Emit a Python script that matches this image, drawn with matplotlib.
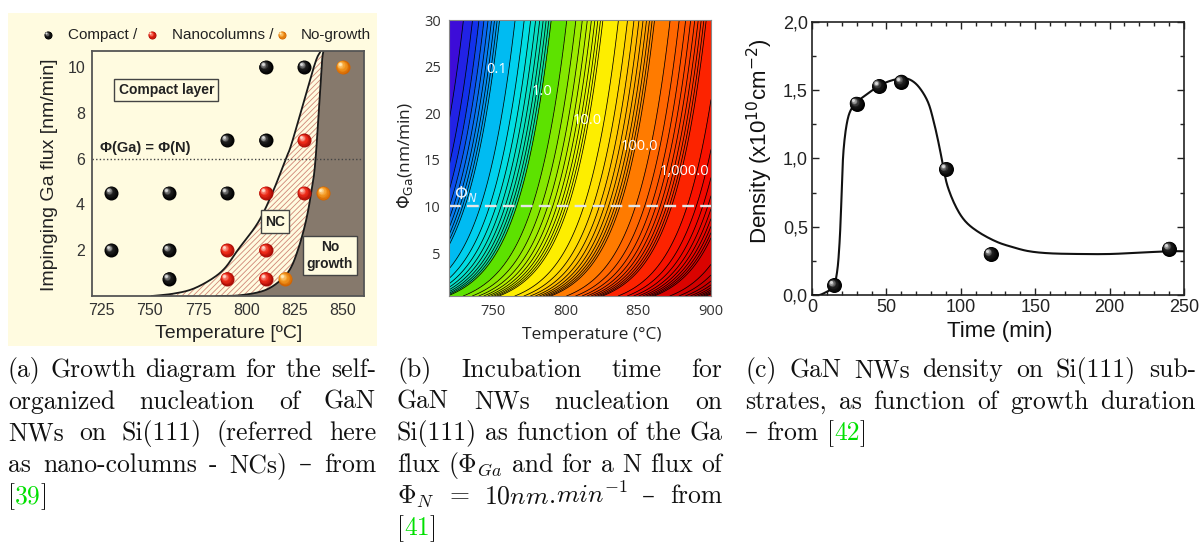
import numpy as np
import matplotlib
matplotlib.use("Agg")
import matplotlib.pyplot as plt
from matplotlib import transforms
from matplotlib.colors import LinearSegmentedColormap, LogNorm, to_rgb
from matplotlib.patches import Rectangle
from matplotlib.ticker import MultipleLocator, FuncFormatter

# ---------------- data: panel (a) growth diagram ----------------
temp_compact = [810, 830, 790, 810, 730, 760, 790, 730, 760, 760]
flux_compact = [10, 10, 6.8, 6.8, 4.5, 4.5, 4.5, 2, 2, 0.75]
temp_nc = [830, 810, 830, 790, 810, 790, 810]
flux_nc = [6.8, 4.5, 4.5, 2, 2, 0.75, 0.75]
temp_nogrowth = [850, 840, 820]
flux_nogrowth = [10, 4.5, 0.75]
# boundaries
bound_nc_flux = [0, 0.1, 0.3, 0.74, 1.23, 2.0, 3.2, 4.5, 6.0, 6.8, 10.0, 10.7]
bound_nc_temp = [751, 762, 772, 782, 789, 795.5, 806, 813.5, 820.5, 824, 835, 838.5]
bound_ng_flux = [0, 0.03, 0.22, 0.6, 1.15, 2.0, 3.2, 4.5, 6.0, 10.0, 10.7]
bound_ng_temp = [784.5, 796.5, 808.6, 816.5, 822.5, 826.7, 830.7, 833.6, 835.9, 839, 840]
a_xticks = [725, 750, 775, 800, 825, 850]
a_yticks = [2, 4, 6, 8, 10]

# ---------------- data: panel (b) incubation-time map ----------------
decade_step = 35.5      # degC per decade of incubation time
t_one_min = 766.4       # temperature of the 1.0 contour at flux 10
flux_bend = 23.0
flux_offset = 1.0
phi_n = 10
b_label_text = ["0.1", "1.0", "10.0", "100.0", "1,000.0"]
b_label_temp = [753, 784, 815, 851, 882]
b_label_flux = [24.7, 22.3, 19.2, 16.4, 13.7]
b_xticks = [750, 800, 850, 900]
b_yticks = [5, 10, 15, 20, 25, 30]

# ---------------- data: panel (c) density vs time ----------------
time_min = [15, 30, 45, 60, 90, 120, 240]
density = [0.07, 1.40, 1.53, 1.56, 0.92, 0.30, 0.34]
fit_time = [0, 5, 10, 14.5, 17, 18.5, 19.5, 20.3, 21.2, 23, 25.5, 30, 37, 45, 52, 60,
            66, 72, 78, 82, 85.5, 88, 91, 96.5, 103, 112, 124, 135, 146, 160, 180,
            200, 220, 240, 250]
fit_density = [0, 0.0, 0.025, 0.06, 0.18, 0.38, 0.62, 0.87, 1.06, 1.23, 1.34, 1.41,
               1.47, 1.53, 1.565, 1.585, 1.575, 1.52, 1.41, 1.26, 1.09, 0.95, 0.80,
               0.65, 0.54, 0.46, 0.39, 0.35, 0.32, 0.305, 0.30, 0.30, 0.31, 0.32, 0.32]

# ---------------- helpers ----------------
W, H = 1200, 543
plt.rcParams["font.family"] = ["Liberation Sans", "DejaVu Sans"]
fig = plt.figure(figsize=(12, 5.43), dpi=100)
fig.patch.set_facecolor("white")


def px_rect(l, t, r, b):
    return [l / W, 1 - b / H, (r - l) / W, (b - t) / H]


def smooth(xs, ys, n=14):
    P = np.column_stack([xs, ys]).astype(float)
    P = np.vstack([2 * P[0] - P[1], P, 2 * P[-1] - P[-2]])
    out = []
    t = np.linspace(0, 1, n, endpoint=False)[:, None]
    for i in range(1, len(P) - 2):
        p0, p1, p2, p3 = P[i - 1], P[i], P[i + 1], P[i + 2]
        seg = 0.5 * ((2 * p1) + (-p0 + p2) * t + (2 * p0 - 5 * p1 + 4 * p2 - p3) * t ** 2
                     + (-p0 + 3 * p1 - 3 * p2 + p3) * t ** 3)
        out.append(seg)
    out.append(P[-2][None, :])
    out = np.vstack(out)
    return out[:, 0], out[:, 1]


def mix(c1, c2, f):
    a, b = np.array(to_rgb(c1)), np.array(to_rgb(c2))
    return tuple(a + (b - a) * f)


def spheres(ax, xs, ys, dark, mid, light, d_px, z=6, transform=None):
    d_pt = d_px * 0.72
    base = transform if transform is not None else ax.transData
    n = 9
    for i in range(n):
        f = i / (n - 1)
        size = d_pt * (1 - 0.8 * f)
        off = d_pt * 0.22 * f
        tr = transforms.offset_copy(base, fig=fig, x=-off, y=off, units="points")
        col = mix(dark, mid, f / 0.5) if f <= 0.5 else mix(mid, light, ((f - 0.5) / 0.5) ** 1.4)
        ax.scatter(xs, ys, s=size ** 2, color=col, transform=tr, linewidths=0,
                   zorder=z + i * 0.01, clip_on=False)


BLACK = ("#000000", "#1c1c1c", "#d8d8d8")
RED = ("#a80c06", "#ee2a18", "#ffd6c8")
ORANGE = ("#d26400", "#f59a22", "#ffeab8")

# ---------------- canvas ----------------
ax0 = fig.add_axes([0, 0, 1, 1], zorder=0)
ax0.set_xlim(0, W)
ax0.set_ylim(H, 0)
ax0.axis("off")
CREAM = "#fffbe0"
ax0.add_patch(Rectangle((8, 13), 369, 333, facecolor=CREAM, edgecolor="none"))

# legend of panel (a)
for (xd, cols, label, xt) in [(48, BLACK, "Compact /", 68),
                              (152, RED, "Nanocolumns /", 172),
                              (282, ORANGE, "No-growth", 301)]:
    spheres(ax0, [xd], [35], *cols, d_px=8, z=3)
    ax0.text(xt, 35, label, fontsize=11, va="center", ha="left", color="#222222")

# ---------------- panel (a) ----------------
axa = fig.add_axes(px_rect(92, 51, 364, 296), zorder=2)
axa.set_facecolor(CREAM)
axa.set_xlim(720, 861)
axa.set_ylim(0, 10.7)

lt, lf = smooth(bound_nc_temp, bound_nc_flux)
rt, rf = smooth(bound_ng_temp, bound_ng_flux)
fgrid = np.linspace(0, 10.7, 400)
lt_g = np.interp(fgrid, lf, lt)
rt_g = np.interp(fgrid, rf, rt)
plt.rcParams["hatch.linewidth"] = 0.6
axa.fill_betweenx(fgrid, lt_g, rt_g, facecolor=CREAM, edgecolor="#d08676",
                  hatch="//////", linewidth=0, zorder=1)
axa.fill_betweenx(fgrid, rt_g, 861, facecolor="#86796c", edgecolor="none", zorder=1)
axa.plot(lt, lf, color="#1a1a1a", lw=1.3, zorder=2)
axa.plot(rt, rf, color="#1a1a1a", lw=1.3, zorder=2)
axa.axhline(6, color="#444444", ls=(0, (1, 1.6)), lw=1.0, zorder=3)

spheres(axa, temp_compact, flux_compact, *BLACK, d_px=14)
spheres(axa, temp_nc, flux_nc, *RED, d_px=14)
spheres(axa, temp_nogrowth, flux_nogrowth, *ORANGE, d_px=14)

box = dict(boxstyle="square,pad=0.3", fc=CREAM, ec="#444444", lw=1.0)
axa.text(758.5, 9.0, "Compact layer", fontsize=10, fontweight="bold", ha="center",
         va="center", bbox=box, color="#222222", zorder=8)
axa.text(814.9, 3.25, "NC", fontsize=10, fontweight="bold", ha="center",
         va="center", bbox=box, color="#222222", zorder=8)
axa.text(843.4, 1.76, "No\ngrowth", fontsize=10, fontweight="bold", ha="center",
         va="center", bbox=box, color="#222222", zorder=8, linespacing=1.25)
axa.text(724, 6.45, "\u03a6(Ga) = \u03a6(N)", fontsize=10.5, fontweight="bold",
         ha="left", va="center", color="#222222", zorder=8)

axa.set_xticks(a_xticks)
axa.set_yticks(a_yticks)
axa.tick_params(length=0, labelsize=11.5, colors="#333333", pad=5)
for s in axa.spines.values():
    s.set_color("#555555")
    s.set_linewidth(1.3)
    s.set_zorder(9)
fig.text(229 / W, 1 - 333 / H, "Temperature [\u00baC]", fontsize=14, ha="center",
         va="center", color="#222222")
fig.text(50 / W, 1 - 175 / H, "Impinging Ga flux [nm/min]", fontsize=14, ha="center",
         va="center", rotation=90, color="#222222")

# ---------------- panel (b) ----------------
axb = fig.add_axes(px_rect(449, 20, 711, 296), zorder=2)
Tg = np.linspace(720, 900, 500)
Fg = np.linspace(0.4, 30, 500)
TT, FF = np.meshgrid(Tg, Fg)
t_contour_one = t_one_min + flux_bend * np.log((FF + flux_offset) / (10 + flux_offset))
Z = 10 ** ((TT - t_contour_one) / decade_step)
levels = np.array([k * 10.0 ** n for n in range(-3, 6) for k in range(1, 10)])
anchors = [(-3.0, (40, 0, 150)), (-2.0, (75, 0, 210)), (-1.5, (20, 45, 235)),
           (-1.0, (0, 172, 245)), (-0.5, (0, 222, 235)), (-0.02, (20, 225, 150)),
           (0.0, (70, 222, 0)), (0.5, (150, 235, 0)), (1.0, (252, 250, 0)),
           (1.5, (255, 215, 0)), (2.0, (255, 135, 0)), (2.5, (255, 95, 0)),
           (3.0, (255, 45, 0)), (3.5, (245, 10, 0)), (4.5, (205, 0, 0)), (6.0, (150, 0, 0))]
lo, hi = anchors[0][0], anchors[-1][0]
cmap = LinearSegmentedColormap.from_list(
    "incub", [((v - lo) / (hi - lo), tuple(c / 255 for c in col)) for v, col in anchors])
norm = LogNorm(vmin=10 ** lo, vmax=10 ** hi)
axb.contourf(TT, FF, Z, levels=levels, cmap=cmap, norm=norm)
axb.contour(TT, FF, Z, levels=levels, colors="black", linewidths=0.55)
axb.axhline(phi_n, color="#e6e6e6", ls=(0, (5, 2.6)), lw=1.7)
for txt, tx, fy in zip(b_label_text, b_label_temp, b_label_flux):
    axb.text(tx, fy, txt, color="white", fontsize=10.5, ha="center", va="center",
             family=["Open Sans", "DejaVu Sans"])
axb.text(723.5, 11.3, r"$\Phi_N$", color="#e4f2ff", fontsize=12, ha="left",
         va="center", math_fontfamily="dejavusans")
axb.set_xlim(720, 900)
axb.set_ylim(0.4, 30)
axb.set_xticks(b_xticks)
axb.set_yticks(b_yticks)
axb.tick_params(length=0, labelsize=10.5, colors="#333333", pad=6)
for lab in axb.get_xticklabels() + axb.get_yticklabels():
    lab.set_family(["Open Sans", "DejaVu Sans"])
for s in axb.spines.values():
    s.set_color("#888888")
    s.set_linewidth(0.8)
fig.text(592 / W, 1 - 335 / H, "Temperature (\u00b0C)", fontsize=12.5, ha="center",
         va="center", color="#222222", family=["Open Sans", "DejaVu Sans"])
fig.text(405 / W, 1 - 155 / H, r"$\Phi_{\rm Ga}$(nm/min)", fontsize=12.5, ha="center",
         va="center", rotation=90, color="#222222", family=["Open Sans", "DejaVu Sans"],
         math_fontfamily="dejavusans")

# ---------------- panel (c) ----------------
axc = fig.add_axes(px_rect(812, 21.7, 1184, 295), zorder=2)
ft, fd = smooth(fit_time, fit_density, n=10)
axc.plot(ft, fd, color="#111111", lw=1.5, zorder=3)
spheres(axc, time_min, density, *BLACK, d_px=15)
axc.set_xlim(0, 250)
axc.set_ylim(0, 2.0)
axc.xaxis.set_major_locator(MultipleLocator(50))
axc.xaxis.set_minor_locator(MultipleLocator(10))
axc.yaxis.set_major_locator(MultipleLocator(0.5))
axc.yaxis.set_minor_locator(MultipleLocator(0.25))
axc.yaxis.set_major_formatter(FuncFormatter(lambda v, p: f"{v:.1f}".replace(".", ",")))
axc.tick_params(which="both", direction="in", top=True, right=True, colors="#222222",
                labelsize=13, width=1.0)
axc.tick_params(which="major", length=5, pad=3)
axc.tick_params(which="minor", length=3)
for s in axc.spines.values():
    s.set_color("#222222")
    s.set_linewidth(1.2)
fig.text(999.5 / W, 1 - 332 / H, "Time (min)", fontsize=16, ha="center", va="center",
         color="#111111")
fig.text(760 / W, 1 - 141 / H, r"Density (x10$^{10}$cm$^{-2}$)", fontsize=16,
         ha="center", va="center", rotation=90, color="#111111",
         math_fontfamily="dejavusans")

# ---------------- captions ----------------
renderer = fig.canvas.get_renderer()
CAP_FAMILY = ["cmr10", "DejaVu Serif"]
CAP_FS = 18.5
GREEN = "#00e000"
DARK = "#111111"


def measure(s):
    t = fig.text(0, 0, s, fontsize=CAP_FS, family=CAP_FAMILY, math_fontfamily="cm")
    w = t.get_window_extent(renderer).width
    t.remove()
    return w


SPACE = measure("a a") - measure("aa")


def put_line(words, x0, x1, base, justify=True):
    widths = [[measure(s) for s, c in w] for w in words]
    tot = sum(sum(ws) for ws in widths)
    gap = (x1 - x0 - tot) / (len(words) - 1) if (justify and len(words) > 1) else SPACE
    x = x0
    for w, ws in zip(words, widths):
        for (s, c), wi in zip(w, ws):
            fig.text(x / W, 1 - base / H, s, fontsize=CAP_FS, family=CAP_FAMILY,
                     math_fontfamily="cm", color=c, ha="left", va="baseline")
            x += wi
        x += gap


def words_of(line):
    return [[(w, DARK)] if isinstance(w, str) else w for w in line]


def ref(num):
    return [("[", DARK), (num, GREEN), ("]", DARK)]


unit = [(r"$10nm$", DARK), (".", DARK), (r"$min^{-1}$", DARK)]

cap_a = [["(a)", "Growth", "diagram", "for", "the", "self-"],
         ["organized", "nucleation", "of", "GaN"],
         ["NWs", "on", "Si(111)", "(referred", "here"],
         ["as", "nano-columns", "-", "NCs)", "\u2013", "from"],
         [ref("39")]]
cap_b = [["(b)", "Incubation", "time", "for"],
         ["GaN", "NWs", "nucleation", "on"],
         ["Si(111)", "as", "function", "of", "the", "Ga"],
         ["flux", r"($\Phi_{Ga}$", "and", "for", "a", "N", "flux", "of"],
         [r"$\Phi_N$", "=", unit, "\u2013", "from"],
         [ref("41")]]
cap_c = [["(c)", "GaN", "NWs", "density", "on", "Si(111)", "sub-"],
         ["strates,", "as", "function", "of", "growth", "duration"],
         ["\u2013", "from", ref("42")]]

for cap, x0, x1 in [(cap_a, 8, 376), (cap_b, 397, 722), (cap_c, 745, 1196)]:
    for i, line in enumerate(cap):
        last = i == len(cap) - 1
        put_line(words_of(line), x0, x1, 377 + 31.6 * i, justify=not last)

fig.savefig("out.png", dpi=100, facecolor="white")
